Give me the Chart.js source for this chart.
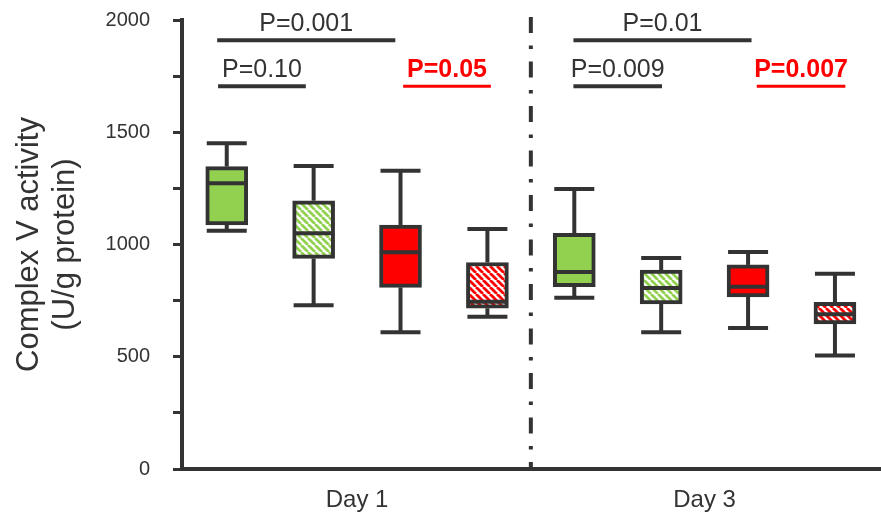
<!DOCTYPE html>
<html>
<head>
<meta charset="utf-8">
<script src="https://cdn.jsdelivr.net/npm/chart.js@4.4.1/dist/chart.umd.min.js"></script>
<style>
html,body{margin:0;padding:0;background:#ffffff;}
#wrap{width:881px;height:516px;}
</style>
</head>
<body>
<div id="wrap"><canvas id="c" width="881" height="516"></canvas></div>
<script>
// ---- data ----
const categories = ['Day 1 green', 'Day 1 green hatched', 'Day 1 red', 'Day 1 red hatched',
                    'Day 3 green', 'Day 3 green hatched', 'Day 3 red', 'Day 3 red hatched'];
const xPositions = [0, 1, 2, 3, 4, 5, 6, 7];
const mins    = [1061,  729,  609,  678,  763,  609,  628,  506];
const q1s     = [1087,  938,  809,  716,  812,  735,  767,  646];
const medians = [1273, 1050,  965,  745,  877,  806,  812,  689];
const q3s     = [1347, 1195, 1087,  920, 1050,  886,  909,  742];
const maxs    = [1451, 1350, 1329, 1069, 1247,  940,  967,  870];

const groupLabels  = ['Day 1', 'Day 3'];
const groupCenters = [1.5, 5.5];
const dividerAt = 3.5;

const yTickValues = [0, 250, 500, 750, 1000, 1250, 1500, 1750, 2000];
const yTickLabels = ['0', '', '500', '', '1000', '', '1500', '', '2000'];
const yTitle = ['Complex V activity', '(U/g protein)'];

const pLabels    = ['P=0.001', 'P=0.10', 'P=0.05', 'P=0.01', 'P=0.009', 'P=0.007'];
const pFrom      = [-0.11, -0.10, 2.03, 3.99, 3.99, 6.10];
const pTo        = [ 1.94,  0.91, 3.04, 6.04, 5.01, 7.12];
const pAt        = [1910, 1705, 1705, 1910, 1705, 1705];
const pHighlight = [false, false, true, false, false, true];

// ---- styles ----
const DARK = '#333333';
const GREEN = '#92d050';
const RED = '#ff0000';
const FONT = '"Liberation Sans", Arial, Helvetica, sans-serif';
const boxColors = [GREEN, GREEN, RED, RED, GREEN, GREEN, RED, RED];
const boxHatched = [false, true, false, true, false, true, false, true];

function hatch(color) {
  const s = 7;
  const c = document.createElement('canvas');
  c.width = s; c.height = s;
  const g = c.getContext('2d');
  g.fillStyle = '#ffffff';
  g.fillRect(0, 0, s, s);
  g.strokeStyle = color;
  g.lineWidth = 2.8;
  g.beginPath();
  for (let k = -1; k <= 1; k++) {
    g.moveTo(k * s, 0);
    g.lineTo(k * s + s, s);
  }
  g.stroke();
  return g.createPattern(c, 'repeat');
}
const ctx0 = document.getElementById('c').getContext('2d');
const fills = boxColors.map((c, i) => boxHatched[i] ? hatch(c) : c);

function seg(ctx, x1, y1, x2, y2) {
  ctx.beginPath(); ctx.moveTo(x1, y1); ctx.lineTo(x2, y2); ctx.stroke();
}

const boxParts = {
  id: 'boxParts',
  beforeDatasetsDraw(chart) {
    const { ctx, scales: { x, y } } = chart;
    ctx.save();
    ctx.strokeStyle = DARK; ctx.lineWidth = 4; ctx.lineCap = 'butt';
    xPositions.forEach((xv, i) => {
      const cx = x.getPixelForValue(xv);
      const yMax = y.getPixelForValue(maxs[i]);
      const yMin = y.getPixelForValue(mins[i]);
      seg(ctx, cx, y.getPixelForValue(q3s[i]), cx, yMax);
      seg(ctx, cx, y.getPixelForValue(q1s[i]), cx, yMin);
      seg(ctx, cx - 20, yMax, cx + 20, yMax);
      seg(ctx, cx - 20, yMin, cx + 20, yMin);
    });
    ctx.restore();
  },
  afterDatasetsDraw(chart) {
    const { ctx, scales: { x, y } } = chart;
    const meta = chart.getDatasetMeta(0);
    ctx.save();
    ctx.strokeStyle = DARK; ctx.lineWidth = 4;
    xPositions.forEach((xv, i) => {
      const cx = x.getPixelForValue(xv);
      const w = meta.data[i].width / 2 - 1;
      const ym = y.getPixelForValue(medians[i]);
      seg(ctx, cx - w, ym, cx + w, ym);
    });
    ctx.restore();
  },
  afterDraw(chart) {
    const { ctx, chartArea, scales: { x, y } } = chart;
    ctx.save();
    // divider
    const dx = x.getPixelForValue(dividerAt);
    ctx.strokeStyle = DARK; ctx.lineWidth = 4;
    ctx.setLineDash([16, 12.5, 3.5, 12.5]);
    seg(ctx, dx, y.getPixelForValue(2013), dx, chartArea.bottom);
    ctx.setLineDash([]);
    // p-value annotations
    pLabels.forEach((t, i) => {
      const x1 = x.getPixelForValue(pFrom[i]);
      const x2 = x.getPixelForValue(pTo[i]);
      const yy = y.getPixelForValue(pAt[i]);
      const col = pHighlight[i] ? RED : DARK;
      ctx.strokeStyle = col;
      ctx.lineWidth = pHighlight[i] ? 3 : 4;
      seg(ctx, x1, yy, x2, yy);
      ctx.fillStyle = col;
      ctx.font = (pHighlight[i] ? 'bold ' : '') + '25px ' + FONT;
      ctx.textAlign = 'center';
      ctx.textBaseline = 'alphabetic';
      ctx.fillText(t, (x1 + x2) / 2, yy - 9);
    });
    ctx.restore();
  }
};

new Chart(ctx0, {
  type: 'bar',
  data: {
    labels: categories,
    datasets: [{
      data: xPositions.map((xv, i) => ({ x: xv, y: [q1s[i], q3s[i]] })),
      backgroundColor: fills,
      borderColor: DARK,
      borderWidth: 4,
      borderSkipped: false,
      barThickness: 42
    }]
  },
  options: {
    responsive: false,
    devicePixelRatio: 1,
    animation: false,
    events: [],
    layout: { padding: { top: 20, right: 0, left: 0, bottom: 0 } },
    plugins: { legend: { display: false }, tooltip: { enabled: false } },
    scales: {
      x: {
        type: 'linear',
        offset: false,
        min: -0.515,
        max: 7.53,
        afterBuildTicks: (s) => { s.ticks = groupCenters.map(v => ({ value: v })); },
        afterFit: (s) => { s.height = 47; s.paddingLeft = 0; s.paddingRight = 0; },
        grid: { display: false, drawTicks: false, offset: false },
        border: { display: true, color: DARK, width: 4 },
        ticks: {
          autoSkip: false,
          maxRotation: 0,
          padding: 17,
          color: DARK,
          font: { family: FONT, size: 24 },
          callback: (v, i) => groupLabels[i]
        }
      },
      y: {
        min: 0,
        max: 2000,
        afterBuildTicks: (s) => { s.ticks = yTickValues.map(v => ({ value: v })); },
        afterFit: (s) => { s.width = 182; s.paddingTop = 0; s.paddingBottom = 0; },
        grid: { display: true, drawOnChartArea: false, drawTicks: true, tickLength: 9, tickWidth: 3, tickColor: DARK },
        border: { display: true, color: DARK, width: 4 },
        ticks: {
          autoSkip: false,
          padding: 23,
          color: DARK,
          font: { family: FONT, size: 20 },
          callback: (v, i) => yTickLabels[i]
        },
        title: {
          display: true,
          text: yTitle,
          color: DARK,
          font: { family: FONT, size: 31, lineHeight: 1.15 },
          padding: { top: 12, bottom: 0 }
        }
      }
    }
  },
  plugins: [boxParts]
});
</script>
</body>
</html>
